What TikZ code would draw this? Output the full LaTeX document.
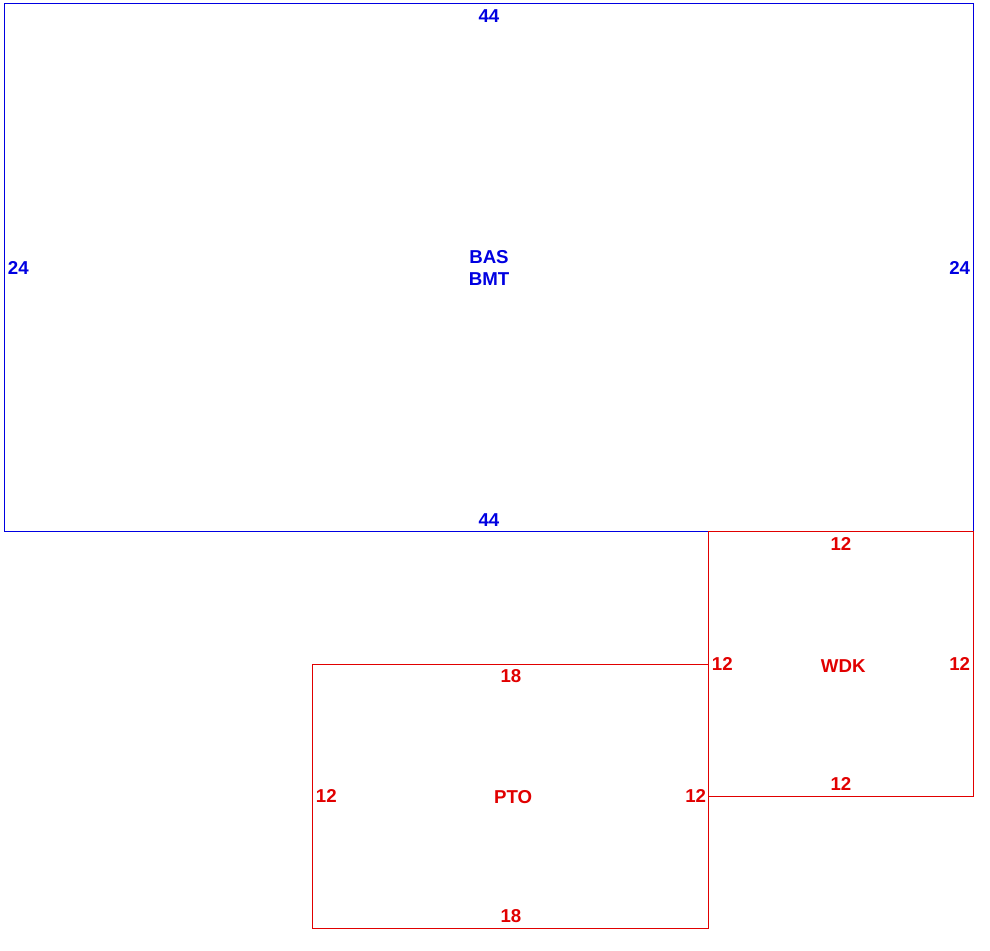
\documentclass[tikz,border=0pt]{standalone}
\usepackage{fontspec}
\setmainfont{Liberation Sans}
\definecolor{roomblue}{RGB}{0,0,225}
\definecolor{roomred}{RGB}{225,0,0}
\tikzset{
	room/.style = {draw, line width=0.75pt},
	dim/.style = {font=\fontsize{14}{16}\selectfont\bfseries, inner xsep=2pt, inner ysep=4pt},
	tag/.style = {font=\fontsize{14}{16}\selectfont\bfseries, align=center}
}

\begin{document}
\begin{tikzpicture}[x=16.5pt, y=16.5pt]
	\useasboundingbox (-0.227,-19.045) rectangle (44.773,24.182);
	% basement
	\begin{scope}[roomblue]
		\coordinate (BASsw) at (0,0);
		\coordinate (BASne) at (44,24);
		\draw[room] (BASsw) rectangle (BASne);
		\node[dim, anchor=north] (BASt) at (22,24) {44};
		\node[dim, anchor=south] (BASb) at (22,0) {44};
		\node[dim, anchor=west] (BASl) at (0,12) {24};
		\node[dim, anchor=east] (BASr) at (44,12) {24};
		\node[tag] (BAS) at (22,12) {BAS\\BMT};
	\end{scope}
	% deck
	\begin{scope}[roomred]
		\coordinate (WDKsw) at (32,-12);
		\coordinate (WDKne) at (44,0);
		\draw[room] (WDKsw) rectangle (WDKne);
		\node[dim, anchor=north] (WDKt) at (38,0) {12};
		\node[dim, anchor=south] (WDKb) at (38,-12) {12};
		\node[dim, anchor=west] (WDKl) at (32,-6) {12};
		\node[dim, anchor=east] (WDKr) at (44,-6) {12};
		\node[tag] (WDK) at (38.1,-6.1) {WDK};
	\end{scope}
	% patio
	\begin{scope}[roomred]
		\coordinate (PTOsw) at (14,-18);
		\coordinate (PTOne) at (32,-6);
		\draw[room] (PTOsw) rectangle (PTOne);
		\node[dim, anchor=north] (PTOt) at (23,-6) {18};
		\node[dim, anchor=south] (PTOb) at (23,-18) {18};
		\node[dim, anchor=west] (PTOl) at (14,-12) {12};
		\node[dim, anchor=east] (PTOr) at (32,-12) {12};
		\node[tag] (PTO) at (23.1,-12.05) {PTO};
	\end{scope}
\end{tikzpicture}
\end{document}
